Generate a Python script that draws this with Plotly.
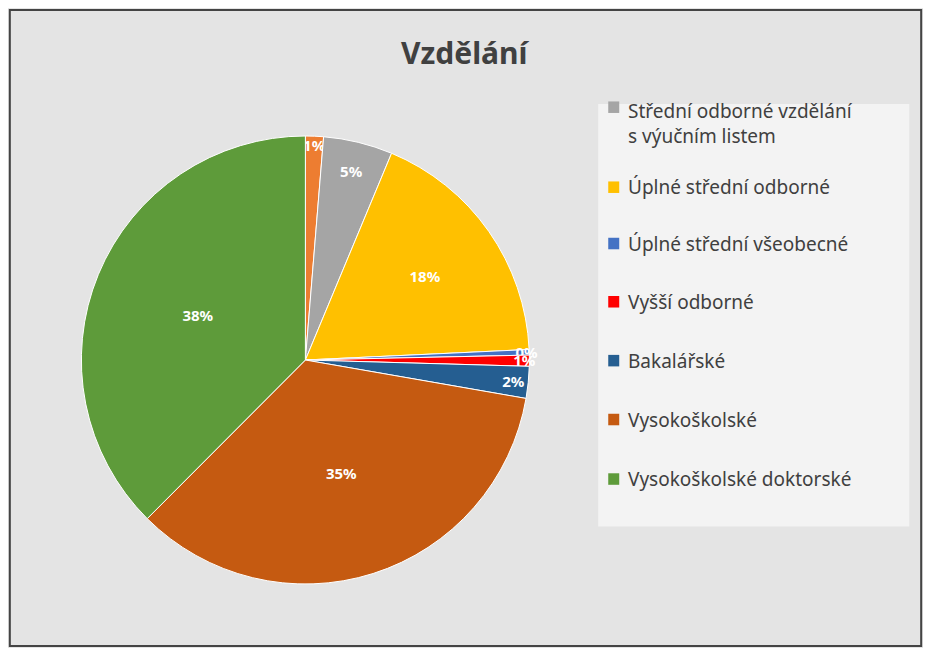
import plotly.graph_objects as go

categories = ["Základní", "Střední odborné vzdělání<br>s výučním listem", "Úplné střední odborné",
              "Úplné střední všeobecné", "Vyšší odborné", "Bakalářské", "Vysokoškolské",
              "Vysokoškolské doktorské"]
values = [1.3, 5.0, 18.0, 0.4, 0.8, 2.3, 34.8, 37.6]
colors = ["#ED7D31", "#A5A5A5", "#FFC000", "#4472C4", "#FF0000", "#255E91", "#C55A11", "#5E9B3A"]
legend_items = categories[1:]
legend_colors = colors[1:]

fig = go.Figure(go.Pie(
    labels=categories, values=values, sort=False, direction="clockwise", rotation=0,
    marker=dict(colors=colors, line=dict(color="white", width=1)),
    texttemplate="<b>%{percent:.0%}</b>", textposition="inside",
    insidetextfont=dict(color="white", size=17, family="Noto Sans"),
    insidetextorientation="horizontal",
    domain=dict(x=[0.02, 0.63], y=[0.10, 0.80]), showlegend=False,
))

shapes = [dict(type="rect", xref="paper", yref="paper", x0=0.645, x1=0.985, y0=0.19, y1=0.85,
               fillcolor="rgba(255,255,255,0.55)", line=dict(width=0)),
          dict(type="rect", xref="paper", yref="paper", x0=0.002, x1=0.998, y0=0.003, y1=0.997,
               fillcolor="rgba(0,0,0,0)", line=dict(color="#444", width=2))]
annotations = [dict(text="<b>Vzdělání</b>", x=0.5, y=0.965, xref="paper", yref="paper",
                    showarrow=False, font=dict(size=30, color="#404040", family="Noto Sans"))]
ys = [0.795, 0.72, 0.632, 0.541, 0.449, 0.357, 0.264]
for name, col, y in zip(legend_items, legend_colors, ys):
    dy = 0.05 if "<br>" in name else 0
    shapes.append(dict(type="rect", xref="paper", yref="paper", x0=0.656, x1=0.668,
                       y0=y + dy - 0.009, y1=y + dy + 0.009, fillcolor=col, line=dict(width=0)))
    annotations.append(dict(text=name, x=0.675, y=y + (0.025 if dy else 0), xref="paper", yref="paper",
                            xanchor="left", yanchor="middle", showarrow=False, align="left",
                            font=dict(size=19, color="#404040", family="Noto Sans")))

fig.update_layout(width=915, height=640, margin=dict(l=0, r=0, t=0, b=0),
                  uniformtext=dict(minsize=15, mode="show"),
                  paper_bgcolor="#e4e4e4", shapes=shapes, annotations=annotations)
fig.write_html("out.html")
